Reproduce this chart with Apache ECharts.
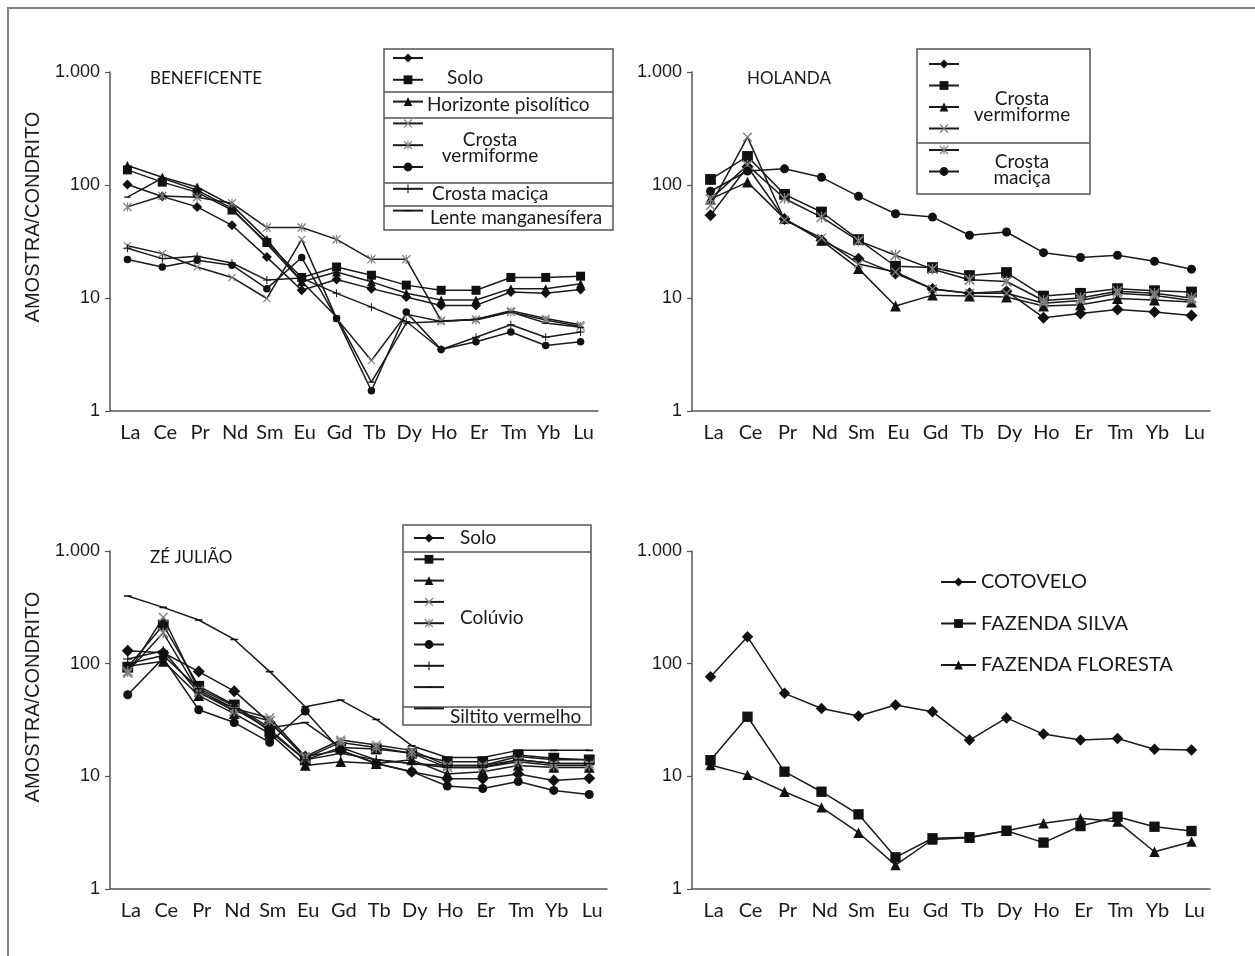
<!DOCTYPE html>
<html>
<head>
<meta charset="utf-8">
<title>ETR normalizados ao condrito</title>
<script src="https://cdn.jsdelivr.net/npm/echarts@6/dist/echarts.min.js"></script>
<style>
    html, body { margin: 0; padding: 0; background: #fff; }
    #chart { width: 1255px; height: 956px; }
</style>
</head>
<body>
<div id="chart"></div>
<script>
var elements = ['La', 'Ce', 'Pr', 'Nd', 'Sm', 'Eu', 'Gd', 'Tb', 'Dy', 'Ho', 'Er', 'Tm', 'Yb', 'Lu'];
var yTickText = {1: '1', 10: '10', 100: '100', 1000: '1.000'};

// BENEFICENTE
var benSolo1 = [101, 79, 64, 44, 23, 11.7, 14.6, 12.1, 10.2, 8.6, 8.6, 11.3, 11, 11.9];
var benSolo2 = [136, 106, 86, 60, 31, 15.2, 18.8, 15.9, 13, 11.7, 11.7, 15.2, 15.2, 15.6];
var benPisolitico = [149, 117, 96, 66, 33, 13.9, 17, 13.9, 11, 9.6, 9.6, 12.1, 12.1, 13.4];
var benVerm1 = [29, 24.7, 18.8, 15.2, 9.9, 33, 6.6, 2.8, 7.2, 6.2, 6.5, 7.7, 6.6, 5.8];
var benVerm2 = [64, 80, 78, 69, 42, 42, 33, 22, 22, 6.3, 6.4, 7.5, 6.4, 5.6];
var benVerm3 = [21.9, 18.8, 21.6, 19.5, 12.1, 22.8, 6.6, 1.51, 7.5, 3.5, 4.1, 5.0, 3.8, 4.1];
var benMacica = [27.6, 22.3, 23.4, 20.4, 14.4, 15, 11, 8.3, 6.2, 3.5, 4.5, 5.8, 4.5, 5.0];
var benLente = [78, 115, 90, 62, 30, 14, 6.8, 1.8, 6, 6.2, 6.5, 7.5, 6, 5.5];

// HOLANDA
var holVerm1 = [54, 145, 50, 32.4, 22.3, 16.5, 12, 11, 11.5, 6.7, 7.3, 7.9, 7.5, 7.0];
var holVerm2 = [112, 179, 82.6, 57.7, 32.9, 19.1, 18.6, 15.8, 16.8, 10.4, 11, 12.1, 11.6, 11.3];
var holVerm3 = [75, 106, 50.4, 32.4, 18.2, 8.5, 10.6, 10.4, 10.2, 8.5, 8.7, 9.9, 9.6, 9.2];
var holVerm4 = [66, 265, 49, 34, 20, 17, 12, 11, 11, 9, 9.5, 11, 10.5, 9.5];
var holMacica1 = [75, 150, 76, 52, 32, 23.9, 18, 14.5, 14, 9.5, 10, 11.5, 11, 10];
var holMacica2 = [88, 133, 139, 117, 79.4, 55.7, 52, 35.9, 38.4, 25.2, 22.8, 23.9, 21.1, 18];

// ZÉ JULIÃO
var zeSolo = [130, 125, 85, 57, 30, 15, 17, 13, 11, 9.5, 9.5, 10.5, 9.2, 9.6];
var zeColuvio1 = [93, 220, 63, 43, 25, 14, 18, 17.5, 16, 13.5, 13.5, 15.5, 14.5, 14];
var zeColuvio2 = [95, 105, 52, 36, 24, 12.5, 13.5, 13, 14, 10.5, 11, 12.5, 12, 12];
var zeColuvio3 = [82, 258, 58, 40, 33, 15, 21, 19, 17, 12.5, 12.5, 14, 13, 13];
var zeColuvio4 = [85, 188, 56, 38, 31, 14.5, 20, 18, 16, 12, 12, 13.5, 12.5, 12.5];
var zeColuvio5 = [53, 112, 39, 30, 20, 38, 17, 13, 11, 8.2, 7.8, 9, 7.5, 6.9];
var zeColuvio6 = [110, 130, 55, 40, 26, 14, 16, 14, 13, 12, 12, 14, 13, 13];
var zeColuvio7 = [100, 118, 60, 42, 27, 30, 18, 14, 13, 12.5, 12.5, 15, 14, 14];
var zeSiltito = [398, 316, 244, 164, 85, 41.5, 47.5, 32, 18.7, 14.7, 14.7, 17, 17, 17];

// localidades
var cotovelo = [76.5, 173, 54.5, 40, 34.3, 43, 37.4, 21, 33, 23.7, 21, 21.7, 17.4, 17.1];
var fazSilva = [13.9, 33.8, 11, 7.3, 4.6, 1.91, 2.82, 2.88, 3.29, 2.58, 3.62, 4.38, 3.57, 3.27];
var fazFloresta = [12.6, 10.3, 7.3, 5.3, 3.16, 1.63, 2.75, 2.85, 3.29, 3.83, 4.24, 3.96, 2.14, 2.63];

var SYM = {
    diamond: ['diamond', 10],
    square: ['rect', 9],
    triangle: ['triangle', 9],
    circle: ['circle', 7.5],
    cross: ['path://M0,1 L1,0 L10,9 L9,10 Z M9,0 L10,1 L1,10 L0,9 Z', 8],
    star: ['path://M0,1 L1,0 L10,9 L9,10 Z M9,0 L10,1 L1,10 L0,9 Z M4.4,0 L5.6,0 L5.6,10 L4.4,10 Z', 9],
    plus: ['path://M4.4,0 L5.6,0 L5.6,10 L4.4,10 Z M0,4.4 L10,4.4 L10,5.6 L0,5.6 Z', 8],
    dash: ['path://M0,0 L0.01,0 L0.01,0.01 Z M10,10 L9.99,10 L9.99,9.99 Z M1,4.2 L9,4.2 L9,5.8 L1,5.8 Z', 8]
};
// marcadores maiores nos três últimos diagramas
var symScale = [1, 1.2, 1.2, 1.15];

function line(name, data, idx, sym, gray) {
    return {
        name: name,
        type: 'line',
        xAxisIndex: idx,
        yAxisIndex: idx,
        data: data,
        symbol: SYM[sym][0],
        symbolSize: SYM[sym][1] * symScale[idx],
        lineStyle: {color: '#1a1a1a', width: 1.5},
        itemStyle: {color: gray ? '#808080' : '#111', borderWidth: 0},
        emphasis: {disabled: true},
        z: 3
    };
}

var series = [
    line('ben-solo-1', benSolo1, 0, 'diamond'),
    line('ben-solo-2', benSolo2, 0, 'square'),
    line('ben-pisolitico', benPisolitico, 0, 'triangle'),
    line('ben-verm-1', benVerm1, 0, 'cross', true),
    line('ben-verm-2', benVerm2, 0, 'star', true),
    line('ben-verm-3', benVerm3, 0, 'circle'),
    line('ben-macica', benMacica, 0, 'plus'),
    line('ben-lente', benLente, 0, 'dash'),

    line('hol-verm-1', holVerm1, 1, 'diamond'),
    line('hol-verm-2', holVerm2, 1, 'square'),
    line('hol-verm-3', holVerm3, 1, 'triangle'),
    line('hol-verm-4', holVerm4, 1, 'cross', true),
    line('hol-macica-1', holMacica1, 1, 'star', true),
    line('hol-macica-2', holMacica2, 1, 'circle'),

    line('ze-solo', zeSolo, 2, 'diamond'),
    line('ze-col-1', zeColuvio1, 2, 'square'),
    line('ze-col-2', zeColuvio2, 2, 'triangle'),
    line('ze-col-3', zeColuvio3, 2, 'cross', true),
    line('ze-col-4', zeColuvio4, 2, 'star', true),
    line('ze-col-5', zeColuvio5, 2, 'circle'),
    line('ze-col-6', zeColuvio6, 2, 'plus'),
    line('ze-col-7', zeColuvio7, 2, 'dash'),
    line('ze-siltito', zeSiltito, 2, 'dash'),

    line('COTOVELO', cotovelo, 3, 'diamond'),
    line('FAZENDA SILVA', fazSilva, 3, 'square'),
    line('FAZENDA FLORESTA', fazFloresta, 3, 'triangle')
];

var grids = [
    {left: 110, top: 72, width: 488, height: 339},
    {left: 692, top: 72, width: 518, height: 339},
    {left: 110, top: 551, width: 497, height: 338},
    {left: 692, top: 551, width: 518, height: 338}
];

var xAxes = [], yAxes = [];
for (var i = 0; i < 4; i++) {
    xAxes.push({
        type: 'category', gridIndex: i, data: elements, boundaryGap: true,
        axisLine: {lineStyle: {color: '#555', width: 1.5}},
        axisTick: {length: 5, lineStyle: {color: '#555', width: 1.2}},
        axisLabel: {interval: 0, margin: 12, fontFamily: 'Lato', fontSize: 20, color: '#1a1a1a', padding: [0, 0, 0, 6]}
    });
    yAxes.push({
        type: 'log', logBase: 10, gridIndex: i, min: 1, max: 1000,
        axisLine: {show: true, lineStyle: {color: '#555', width: 1.5}},
        axisTick: {show: true, length: 5, lineStyle: {color: '#555', width: 1.2}},
        splitLine: {show: false},
        minorTick: {show: false},
        axisLabel: {
            margin: 10, fontFamily: 'Liberation Sans', fontSize: 18, color: '#1a1a1a',
            formatter: function (v) { return yTickText[Math.round(v)] || ''; }
        }
    });
}

function boxLegend(names, left, top, gap) {
    return {
        data: names, orient: 'vertical', left: left, top: top,
        itemWidth: 30, itemHeight: 11, itemGap: gap, padding: 0,
        selectedMode: false, formatter: function () { return ''; },
        textStyle: {fontSize: 1}
    };
}

var legends = [
    boxLegend(['ben-solo-1', 'ben-solo-2', 'ben-pisolitico', 'ben-verm-1', 'ben-verm-2', 'ben-verm-3', 'ben-macica', 'ben-lente'], 392, 52.5, 11.9),
    boxLegend(['hol-verm-1', 'hol-verm-2', 'hol-verm-3', 'hol-verm-4', 'hol-macica-1', 'hol-macica-2'], 928, 58.5, 11.6),
    boxLegend(['ze-solo', 'ze-col-1', 'ze-col-2', 'ze-col-3', 'ze-col-4', 'ze-col-5', 'ze-col-6', 'ze-col-7', 'ze-siltito'], 413, 532.5, 11.4),
    {
        data: ['COTOVELO', 'FAZENDA SILVA', 'FAZENDA FLORESTA'], orient: 'vertical', left: 940, top: 572,
        itemWidth: 35, itemHeight: 11, itemGap: 21.5, itemTextGap: 1, padding: 0, selectedMode: false,
        itemStyle: {borderWidth: 0},
        textStyle: {fontFamily: 'Lato', fontSize: 20, color: '#1a1a1a'}
    }
];

var font = 'Lato';
function txt(x, y, s, size, align) {
    return {type: 'text', x: x, y: y, style: {text: s, font: size + 'px ' + font, fill: '#1a1a1a', align: align || 'left', verticalAlign: 'middle', lineHeight: 16}};
}
function hline(x1, x2, y) {
    return {type: 'line', shape: {x1: x1, y1: y, x2: x2, y2: y}, style: {stroke: '#555', lineWidth: 1.5}};
}
function box(x, y, w, h) {
    return {type: 'rect', shape: {x: x, y: y, width: w, height: h}, style: {fill: 'none', stroke: '#555', lineWidth: 1.5}};
}

var graphics = [
    // moldura da figura
    {type: 'rect', shape: {x: 8, y: 8, width: 1300, height: 1000}, style: {fill: 'none', stroke: '#808080', lineWidth: 2}},
    {type: 'text', x: 33, y: 217, rotation: Math.PI / 2, style: {text: 'AMOSTRA/CONDRITO', font: '20px "Liberation Sans"', fill: '#1a1a1a', align: 'center', verticalAlign: 'middle'}},
    {type: 'text', x: 33, y: 697, rotation: Math.PI / 2, style: {text: 'AMOSTRA/CONDRITO', font: '20px "Liberation Sans"', fill: '#1a1a1a', align: 'center', verticalAlign: 'middle'}},
    txt(150, 79, 'BENEFICENTE', 17),
    txt(747, 79, 'HOLANDA', 17),
    txt(150, 558, 'ZÉ JULIÃO', 17),

    box(384, 49, 229, 181), hline(384, 613, 92), hline(384, 613, 118), hline(384, 613, 183), hline(384, 613, 206),
    txt(447, 78, 'Solo', 19),
    txt(427, 105, 'Horizonte pisolítico', 19),
    txt(490, 148, 'Crosta\nvermiforme', 19, 'center'),
    txt(432, 194, 'Crosta maciça', 19),
    txt(430, 218, 'Lente manganesífera', 19),

    box(917, 49, 173, 145), hline(917, 1090, 143),
    txt(1022, 107, 'Crosta\nvermiforme', 19, 'center'),
    txt(1022, 170, 'Crosta\nmaciça', 19, 'center'),

    box(403, 525, 188, 200), hline(403, 591, 552), hline(403, 591, 707),
    txt(460, 538, 'Solo', 19),
    txt(460, 618, 'Colúvio', 19),
    txt(450, 717, 'Siltito vermelho', 19)
];

var myChart = echarts.init(document.getElementById('chart'));
var option = {
    animation: false,
    backgroundColor: '#fff',
    grid: grids,
    xAxis: xAxes,
    yAxis: yAxes,
    legend: legends,
    series: series,
    graphic: graphics
};
myChart.setOption(option);
</script>
</body>
</html>
